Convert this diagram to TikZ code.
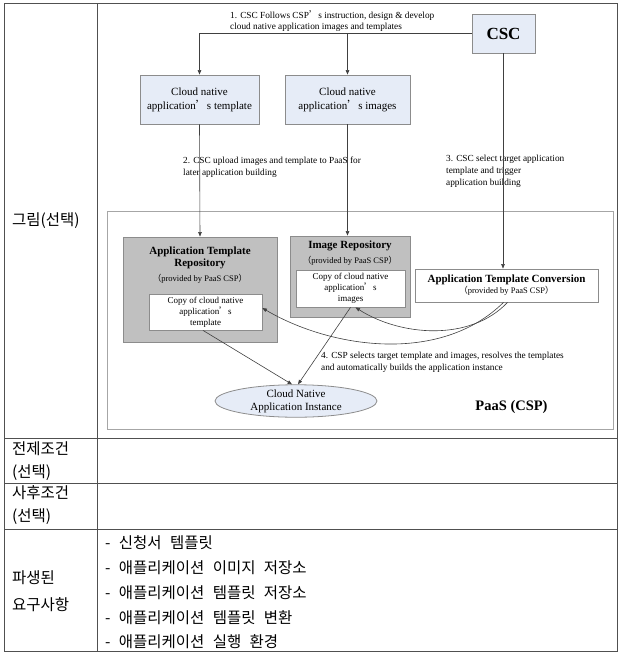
\documentclass[tikz,border=0pt]{standalone}
\usepackage{fontspec}
\setmainfont{Liberation Serif}
\newfontfamily\kr[WordSpace=2.4]{Noto Sans CJK KR}
\newfontfamily\cjksc{Noto Sans CJK SC}
\usetikzlibrary{arrows.meta,shapes.geometric}
\newcommand{\ap}{{\cjksc ’}}
\newcommand{\lp}{{\cjksc （}}
\newcommand{\rp}{{\cjksc ）}}
\definecolor{tblline}{HTML}{505050}
\definecolor{paasline}{HTML}{A6A6A6}
\definecolor{boxline}{HTML}{8C8C8C}
\definecolor{lightblue}{HTML}{E6ECF7}
\definecolor{repogray}{HTML}{C0C0C0}
\begin{document}
\begin{tikzpicture}[x=1pt,y=-1pt,
  tbl/.style={draw=tblline,line width=1pt},
  bluebox/.style={draw=boxline,fill=lightblue,line width=0.8pt,inner sep=0pt,align=center},
  graybox/.style={draw=boxline,fill=repogray,line width=0.8pt,inner sep=0pt},
  whitebox/.style={draw=boxline,fill=white,line width=0.8pt,inner sep=0pt,align=center},
  conn/.style={draw=black!75,line width=0.6pt,-{Triangle[length=4.5pt,width=3.5pt]}},
  line/.style={draw=black!75,line width=0.6pt},
  steptext/.style={anchor=west,inner sep=0pt,align=left,font=\fontsize{9.3}{11.8}\selectfont},
  krtext/.style={anchor=west,inner sep=0pt,font=\kr\fontsize{15.5}{18}\selectfont},
  boxtext/.style={font=\fontsize{11}{14}\selectfont},
  smalltext/.style={font=\fontsize{9}{11}\selectfont},
  provtext/.style={font=\fontsize{8.5}{10}\selectfont,inner sep=0pt}
]
\useasboundingbox (0,0) rectangle (622,654);
% table
\draw[tbl] (4,3) rectangle (617,651);
\draw[tbl] (97,3) -- (97,651);
\draw[tbl] (4,438) -- (617,438);
\draw[tbl] (4,483) -- (617,483);
\draw[tbl] (4,529) -- (617,529);
% left labels
\node[krtext] (lab1) at (12,221) {그림(선택)};
\node[krtext] (lab2a) at (12,449) {전제조건};
\node[krtext] (lab2b) at (12,473) {(선택)};
\node[krtext] (lab3a) at (12,493) {사후조건};
\node[krtext] (lab3b) at (12,517) {(선택)};
\node[krtext] (lab4a) at (12,578) {파생된};
\node[krtext] (lab4b) at (12,605) {요구사항};
\node[krtext] (it1) at (105,543) {- 신청서 템플릿};
\node[krtext] (it2) at (105,567.75) {- 애플리케이션 이미지 저장소};
\node[krtext] (it3) at (105,592.5) {- 애플리케이션 템플릿 저장소};
\node[krtext] (it4) at (105,617.25) {- 애플리케이션 템플릿 변환};
\node[krtext] (it5) at (105,642) {- 애플리케이션 실행 환경};
% PaaS frame
\draw[draw=paasline,line width=1pt] (107,211) rectangle (613,429);
\node[font=\bfseries\fontsize{14.5}{17}\selectfont,inner sep=0pt] (paas) at (511.5,407) {PaaS (CSP)};
% top boxes
\node[bluebox,minimum width=63pt,minimum height=39pt,font=\bfseries\fontsize{17}{20}\selectfont] (csc) at (503.5,33.5) {CSC};
\node[bluebox,boxtext,minimum width=119pt,minimum height=49pt] (tpl) at (199.5,99.5) {Cloud native\\application\ap s template};
\node[bluebox,boxtext,minimum width=125pt,minimum height=49pt] (img) at (347.5,99.5) {Cloud native\\application\ap s images};
% repositories
\node[graybox,minimum width=154pt,minimum height=105pt] (atr) at (200,289.5) {};
\node[font=\bfseries\fontsize{11}{12}\selectfont,align=center,inner sep=0pt] (atrt) at (200,258) {Application Template\\Repository};
\node[provtext] (atrp) at (200,279) {\lp provided by PaaS CSP\rp};
\node[whitebox,smalltext,minimum width=113pt,minimum height=36pt] (atri) at (205.5,312) {Copy of cloud native\\application\ap s\\template};
\node[graybox,minimum width=120pt,minimum height=81pt] (ir) at (350,276.5) {};
\node[font=\bfseries\fontsize{11}{12}\selectfont,inner sep=0pt] (irt) at (350,246) {Image Repository};
\node[provtext] (irp) at (350,260.5) {\lp provided by PaaS CSP\rp};
\node[whitebox,smalltext,minimum width=109pt,minimum height=37pt] (iri) at (350.5,288.5) {Copy of cloud native\\application\ap s\\images};
\node[whitebox,minimum width=183pt,minimum height=33pt] (conv) at (506.5,285.5) {{\bfseries\fontsize{11}{14}\selectfont Application Template Conversion}\\[-1pt]{\fontsize{8.5}{10}\selectfont\lp provided by PaaS CSP\rp}};
\node[ellipse,draw=boxline,fill=lightblue,line width=0.8pt,inner sep=0pt,minimum width=162pt,minimum height=32pt,align=center,font=\fontsize{11}{13}\selectfont] (inst) at (296,401) {Cloud Native\\Application Instance};
% step texts
\node[steptext] (s1) at (230,21) {1. CSC Follows CSP\ap s instruction, design \& develop\\cloud native application images and templates};
\node[steptext] (s2) at (183,167.5) {2. CSC upload images and template to PaaS for\\later application building};
\node[steptext] (s3) at (446,171.5) {3. CSC select target application\\template and trigger\\application building};
\node[steptext] (s4) at (321,362.5) {4. CSP selects target template and images, resolves the templates\\and automatically builds the application instance};
% connectors
\coordinate (j1) at (img.north |- csc.west);
\coordinate (j2) at (tpl.north |- csc.west);
\draw[line] (csc.west) -- (j1);
\draw[conn] (j1) -- (img.north);
\draw[conn] (j1) -- (j2) -- (tpl.north);
\draw[conn] (csc.south -| 503,0) -- (503,0 |- conv.north);
\draw[conn] (tpl.south) -- (atr.north);
\draw[conn] (img.south) -- (img.south |- ir.north);
\draw[conn] ([xshift=-2.5pt]atri.south) -- ([xshift=-4pt]inst.north);
\draw[conn] (iri.south) -- ([xshift=2pt]inst.north);
\coordinate (c1) at ([xshift=1pt]conv.south);
\coordinate (c2) at ([xshift=-3pt]conv.south);
\draw[conn] (c1) .. controls (470,342) and (400,336) .. ([xshift=5pt]iri.south);
\draw[conn] (c2) .. controls (440,365) and (330,348) .. ([yshift=4pt]atri.east);
\end{tikzpicture}
\end{document}
